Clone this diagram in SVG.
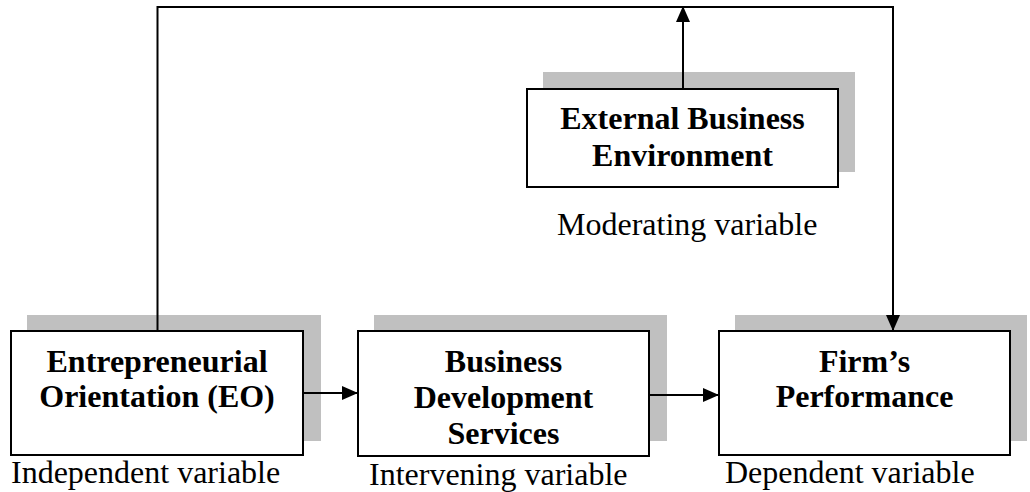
<svg xmlns="http://www.w3.org/2000/svg" width="1030" height="492" viewBox="0 0 1030 492">
<style>
.shadow{fill:#c0c0c0;stroke:none}
.box{fill:#ffffff;stroke:#000000;stroke-width:2}
.bt{font-family:"Liberation Serif","Times New Roman",serif;font-weight:bold;font-size:32px;fill:#000;text-anchor:middle}
.lt{font-family:"Liberation Serif","Times New Roman",serif;font-size:32px;fill:#000}
.conn{fill:none;stroke:#000;stroke-width:2}
</style>
<defs>
<marker id="ah" viewBox="0 0 16 14" refX="15" refY="7" markerWidth="16" markerHeight="14" markerUnits="userSpaceOnUse" orient="auto">
<path d="M0,0 L16,7 L0,14 Z" fill="#000"/>
</marker>
</defs>
<g id="node-ext">
<rect class="shadow" x="543" y="72" width="312" height="100"/>
<rect class="box" x="527" y="89" width="311" height="98"/>
<text class="bt" x="682.5" y="129">External Business</text>
<text class="bt" x="682.5" y="166">Environment</text>
<text class="lt" x="557" y="235">Moderating variable</text>
</g>
<g id="node-eo">
<rect class="shadow" x="27" y="315" width="294" height="126"/>
<rect class="box" x="11" y="331" width="292" height="124"/>
<text class="bt" x="157" y="372">Entrepreneurial</text>
<text class="bt" x="157" y="407">Orientation (EO)</text>
<text class="lt" x="11" y="483">Independent variable</text>
</g>
<g id="node-bds">
<rect class="shadow" x="374" y="315" width="293" height="126"/>
<rect class="box" x="358" y="331" width="291" height="125"/>
<text class="bt" x="503.5" y="372">Business</text>
<text class="bt" x="503.5" y="408">Development</text>
<text class="bt" x="503.5" y="444">Services</text>
<text class="lt" x="369" y="485">Intervening variable</text>
</g>
<g id="node-firm">
<rect class="shadow" x="735" y="315" width="292" height="126"/>
<rect class="box" x="719" y="331" width="291" height="124"/>
<text class="bt" x="864.5" y="372">Firm’s</text>
<text class="bt" x="864.5" y="407">Performance</text>
<text class="lt" x="725" y="483">Dependent variable</text>
</g>
<g id="connectors">
<polyline class="conn" points="157.5,330 157.5,7 893,7 893,330" marker-end="url(#ah)"/>
<line class="conn" x1="683" y1="88" x2="683" y2="7" marker-end="url(#ah)"/>
<line class="conn" x1="304" y1="393" x2="357" y2="393" marker-end="url(#ah)"/>
<line class="conn" x1="650" y1="395" x2="718" y2="395" marker-end="url(#ah)"/>
</g>
</svg>
